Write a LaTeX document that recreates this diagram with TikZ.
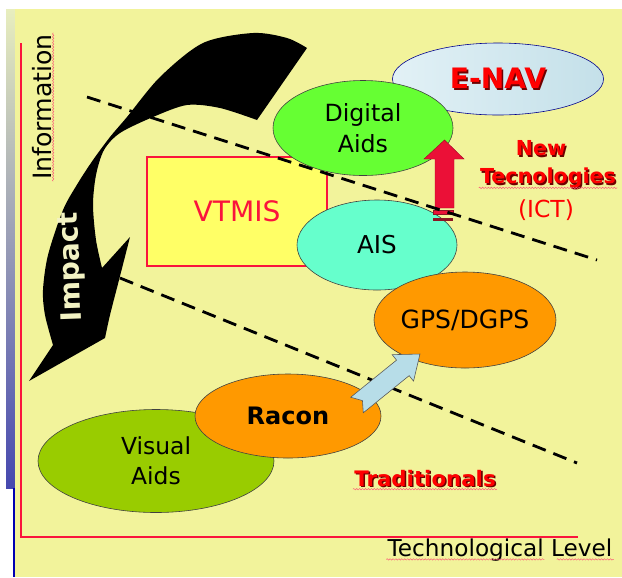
\documentclass[tikz,border=0pt]{standalone}
\usepackage{fontspec}
\setmainfont{DejaVu Sans}
\usetikzlibrary{calc,positioning,shapes.geometric,decorations.pathmorphing}
\definecolor{bgyellow}{RGB}{242,243,155}
\definecolor{axisred}{RGB}{250,20,60}
\definecolor{enavblue}{RGB}{226,241,246}
\definecolor{enavblueb}{RGB}{196,224,233}
\definecolor{digigreen}{RGB}{102,255,51}
\definecolor{aisteal}{RGB}{102,255,204}
\definecolor{navorange}{RGB}{255,153,0}
\definecolor{visgreen}{RGB}{153,204,0}
\definecolor{vtmisyellow}{RGB}{255,255,102}
\definecolor{arrowred}{RGB}{235,16,55}
\definecolor{stripered}{RGB}{140,20,35}
\definecolor{arrowblue}{RGB}{183,221,232}
\definecolor{shadowred}{RGB}{110,0,0}
\definecolor{impactcream}{RGB}{242,242,195}
\newcommand{\shtxt}[1]{\leavevmode\rlap{\kern1.3pt\raisebox{-1.3pt}{\textcolor{shadowred}{#1}}}#1}

\begin{document}
\begin{tikzpicture}[x=0.03cm,y=-0.03cm,
  area/.style={draw=black!75,line width=.5pt,ellipse,inner sep=0pt,align=center},
  txt/.style={inner sep=1pt,align=center},
  divider/.style={line width=2.4pt,dash pattern=on 12pt off 7pt},
  axisline/.style={axisred,line width=2.2pt},
  squig/.style={axisred!70,line width=.4pt,decorate,decoration={snake,amplitude=.6pt,segment length=2.5pt}},
  ]

  \useasboundingbox (0,0) rectangle (622,577);
  \fill[white] (0,0) rectangle (622,577);
  \shade[top color={rgb,255:red,232;green,238;blue,190},middle color={rgb,255:red,185;green,185;blue,170},
    bottom color={rgb,255:red,70;green,72;blue,175}] (6,9) rectangle (15,488);
  \fill[blue!70!black] (13,488) rectangle (15,577);
  \fill[bgyellow] (15,9) rectangle (622,577);

  \draw[axisline] (21,43) -- (21,537) -- (578,537);

  % impact arrow
  \fill[black] (307,48) -- (257,120)
    -- plot[smooth] coordinates {(257,120) (220,108) (187,105) (153,117) (120,133) (104,150) (96,175) (93,205) (96,240) (102,268)}
    -- (130,237)
    -- plot[smooth] coordinates {(130,237) (119,280) (110,315) (105,338)}
    -- (29,381) -- (53,345)
    -- plot[smooth] coordinates {(53,345) (45,315) (43,290) (48,255) (63,210) (78,183) (93,160) (110,137) (127,117) (160,77) (203,43) (253,33) (287,38) (307,48)}
    -- cycle;
  \node[txt,rotate=92,text=impactcream,font=\bfseries\fontsize{24}{28}\selectfont] (impact) at (72,267) {Impact};

  \node[area,fill=visgreen,minimum width=7.08cm,minimum height=3.09cm,font=\fontsize{20}{25.5}\selectfont] (visual) at (156,461) {Visual\\Aids};
  \node[area,fill=navorange,minimum width=5.58cm,minimum height=2.52cm,font=\bfseries\fontsize{20.5}{24}\selectfont] (racon) at (288,416) {Racon};
  \node[draw=axisred,line width=1.2pt,fill=vtmisyellow,minimum width=5.4cm,minimum height=3.27cm,text=axisred,font=\fontsize{24}{28}\selectfont] (vtmis) at (237,211.5) {VTMIS};
  \node[area,draw=blue!55!black,left color=enavblue,right color=enavblueb,minimum width=6.33cm,minimum height=2.16cm,text=red,font=\bfseries\fontsize{24}{28}\selectfont] (enav) at (498,79) {\shtxt{E-NAV}};
  \node[area,fill=digigreen,minimum width=5.4cm,minimum height=2.85cm,font=\fontsize{20.2}{27}\selectfont] (digital) at (363,128) {Digital\\Aids};
  \node[area,fill=aisteal,minimum width=4.8cm,minimum height=2.7cm,font=\fontsize{21}{25}\selectfont] (ais) at (377,245) {AIS};
  \node[area,fill=navorange,minimum width=5.43cm,minimum height=2.88cm,font=\fontsize{21.4}{25}\selectfont] (gps) at (465,320) {GPS/DGPS};

  \coordinate (upa) at (87,97);
  \coordinate (upb) at (597,260);
  \coordinate (lowa) at (120,278);
  \coordinate (lowb) at (577,463);

  \fill[arrowred,draw=arrowred!70!black,line width=.4pt] (435,208) -- (435,159) -- (424,159) -- (444.5,140) -- (464,159) -- (454,159) -- (454,208) -- cycle;
  \filldraw[fill=arrowred,draw=stripered,line width=.6pt] (433,210) rectangle (453,214);
  \fill[stripered] (433,218) rectangle (453,221);

  \draw[divider] (upa) -- (upb);
  \draw[divider] (lowa) -- (lowb);

  \begin{scope}[shift={(357,405)},rotate=39]
    \filldraw[fill=arrowblue,draw=black!65,line width=.5pt] (0,10) -- (59,10) -- (59,17) -- (81,0) -- (59,-17) -- (59,-10) -- (0,-10) -- (7,0) -- cycle;
  \end{scope}

  \node[txt,rotate=90,font=\fontsize{21.5}{25}\selectfont] (info) at (42,107) {Information};
  \node[txt,font=\fontsize{19.8}{24}\selectfont] (techlevel) at (500,550) {Technological Level};
  \node[txt,text=red,font=\bfseries\fontsize{17.6}{22}\selectfont] (newword) at (541,149) {\shtxt{New}};
  \node[txt,text=red,font=\bfseries\fontsize{17.6}{22}\selectfont] (tecno) at (548,179) {\shtxt{Tecnologies}};
  \node[txt,text=red,font=\fontsize{20}{24}\selectfont] (ict) at (546,210) {(ICT)};
  \node[txt,text=red,font=\bfseries\fontsize{18.2}{22}\selectfont] (trad) at (425,479) {\shtxt{Traditionals}};

  \draw[squig] (info.south west) -- (info.south east);
  \draw[squig] ($(techlevel.base west)+(0,3)$) -- ($(techlevel.base west)+(158,3)$);
  \draw[squig] ($(techlevel.base east)+(-57,3)$) -- ($(techlevel.base east)+(0,3)$);
  \draw[squig] ($(tecno.base west)+(0,4)$) -- ($(tecno.base east)+(0,4)$);
  \draw[squig] ($(trad.base west)+(0,3)$) -- ($(trad.base east)+(0,3)$);

\end{tikzpicture}
\end{document}
